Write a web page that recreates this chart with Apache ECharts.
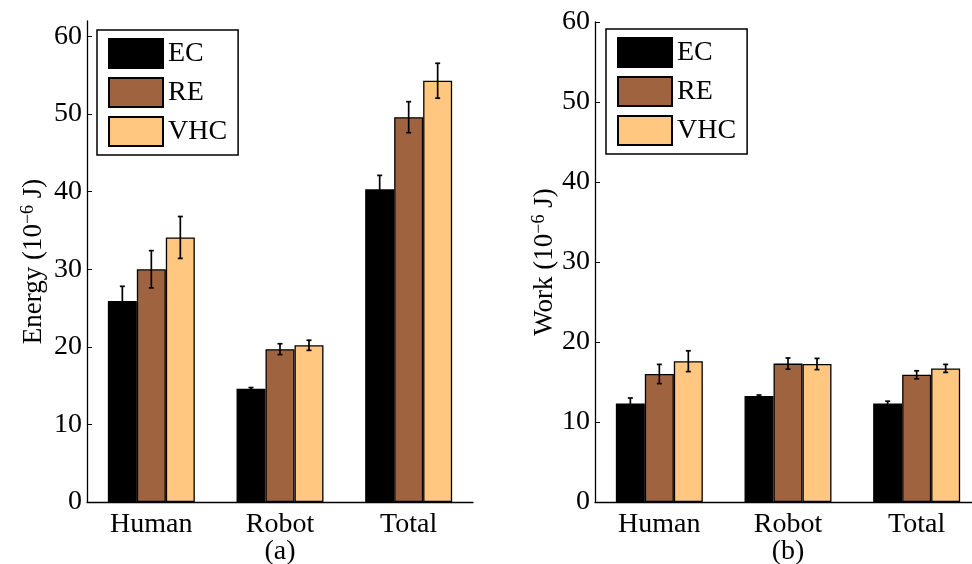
<!DOCTYPE html>
<html>
<head>
<meta charset="utf-8">
<script src="https://cdn.jsdelivr.net/npm/echarts@6/dist/echarts.min.js"></script>
<style>html,body{margin:0;padding:0;background:#fff}#c{width:972px;height:564px}</style>
</head>
<body>
<div id="c"></div>
<script>
const categories = ['Human', 'Robot', 'Total'];
const seriesNames = ['EC', 'RE', 'VHC'];
const yTicks = [0, 10, 20, 30, 40, 50, 60];

const energyEC = [25.9, 14.6, 40.3];
const energyRE = [30.0, 19.7, 49.6];
const energyVHC = [34.1, 20.2, 54.3];
const energyECErr = [1.9, 0.15, 1.8];
const energyREErr = [2.4, 0.7, 2.0];
const energyVHCErr = [2.7, 0.65, 2.25];

const workEC = [12.3, 13.25, 12.3];
const workRE = [16.0, 17.3, 15.9];
const workVHC = [17.6, 17.25, 16.7];
const workECErr = [0.7, 0.12, 0.3];
const workREErr = [1.2, 0.7, 0.5];
const workVHCErr = [1.3, 0.7, 0.5];

const colors = ['#000000', '#9F643F', '#FFC77F'];
const FONT = 'Liberation Serif';
const BAR_FRAC = 0.2253;

function barSeries(name, data, gi, ci) {
  return {
    type: 'bar', name: name, data: data,
    xAxisIndex: gi, yAxisIndex: gi,
    barWidth: (BAR_FRAC * 100) + '%', barGap: '0%',
    itemStyle: { color: colors[ci], borderColor: '#000', borderWidth: 1.3 },
    z: 2
  };
}

function errSeries(vals, errs, gi, ci) {
  const d = vals.map((v, i) => [i, v, errs[i]]);
  return {
    type: 'custom', name: 'err' + gi + ci,
    xAxisIndex: gi, yAxisIndex: gi, z: 5,
    data: d, encode: { x: 0, y: 1 },
    renderItem: function (params, api) {
      const cat = api.value(0), v = api.value(1), e = api.value(2);
      const catW = api.size([1, 0])[0];
      const dx = (ci - 1) * catW * BAR_FRAC;
      const t = api.coord([cat, v + e]);
      const b = api.coord([cat, v - e]);
      const x = t[0] + dx;
      const cap = 2.5;
      const st = { stroke: '#000', lineWidth: 1.7 };
      return {
        type: 'group', children: [
          { type: 'line', shape: { x1: x, y1: t[1], x2: x, y2: b[1] }, style: st },
          { type: 'line', shape: { x1: x - cap, y1: t[1], x2: x + cap, y2: t[1] }, style: st },
          { type: 'line', shape: { x1: x - cap, y1: b[1], x2: x + cap, y2: b[1] }, style: st }
        ]
      };
    }
  };
}

function xAx(gi, label) {
  return {
    type: 'category', gridIndex: gi, data: categories,
    name: label, nameLocation: 'middle', nameGap: 36, nameMoveOverlap: false,
    nameTextStyle: { fontFamily: FONT, fontSize: 28, color: '#000' },
    axisLine: { lineStyle: { color: '#000', width: 1.3 } },
    axisTick: { inside: true, alignWithLabel: true, length: 5, lineStyle: { color: '#000' } },
    axisLabel: { fontFamily: FONT, fontSize: 28, color: '#000', margin: 9, interval: 0 },
    splitLine: { show: false }
  };
}

function yAx(gi, max, name, gap) {
  return {
    type: 'value', gridIndex: gi, min: 0, max: max, interval: 10,
    name: name, nameLocation: 'middle', nameGap: gap, nameMoveOverlap: false,
    nameTextStyle: {
      fontFamily: FONT, fontSize: 27, color: '#000',
      rich: { sup: { fontFamily: FONT, fontSize: 18, color: '#000', verticalAlign: 'top', lineHeight: 30 } }
    },
    axisLine: { show: true, lineStyle: { color: '#000', width: 1.3 } },
    axisTick: { show: true, inside: true, length: 5, customValues: yTicks, lineStyle: { color: '#000' } },
    axisLabel: {
      fontFamily: FONT, fontSize: 28, color: '#000', margin: 5, customValues: yTicks,
      formatter: v => (v % 10 === 0 ? String(v) : '')
    },
    splitLine: { show: false }
  };
}

function legendFor(left, top) {
  return {
    data: seriesNames, orient: 'vertical', left: left, top: top,
    itemWidth: 54, itemHeight: 29, itemGap: 8, icon: 'rect',
    padding: [8, 11, 8, 11],
    borderColor: '#000', borderWidth: 1.5, backgroundColor: '#fff',
    textStyle: { fontFamily: FONT, fontSize: 28, color: '#000' },
    selectedMode: false
  };
}

const chart = echarts.init(document.getElementById('c'), null, { renderer: 'canvas' });
chart.setOption({
  animation: false,
  backgroundColor: '#fff',
  grid: [
    { left: 87, top: 21, width: 386, height: 481, outerBoundsMode: 'none', containLabel: false },
    { left: 595, top: 22, width: 386, height: 480, outerBoundsMode: 'none', containLabel: false }
  ],
  legend: [legendFor(97, 30), legendFor(606, 29)],
  xAxis: [xAx(0, '(a)'), xAx(1, '(b)')],
  yAxis: [
    yAx(0, 62, 'Energy (10{sup|−6} J)', 38),
    yAx(1, 60, 'Work (10{sup|−6} J)', 35)
  ],
  series: [
    barSeries('EC', energyEC, 0, 0),
    barSeries('RE', energyRE, 0, 1),
    barSeries('VHC', energyVHC, 0, 2),
    barSeries('EC', workEC, 1, 0),
    barSeries('RE', workRE, 1, 1),
    barSeries('VHC', workVHC, 1, 2),
    errSeries(energyEC, energyECErr, 0, 0),
    errSeries(energyRE, energyREErr, 0, 1),
    errSeries(energyVHC, energyVHCErr, 0, 2),
    errSeries(workEC, workECErr, 1, 0),
    errSeries(workRE, workREErr, 1, 1),
    errSeries(workVHC, workVHCErr, 1, 2)
  ]
});
</script>
</body>
</html>
